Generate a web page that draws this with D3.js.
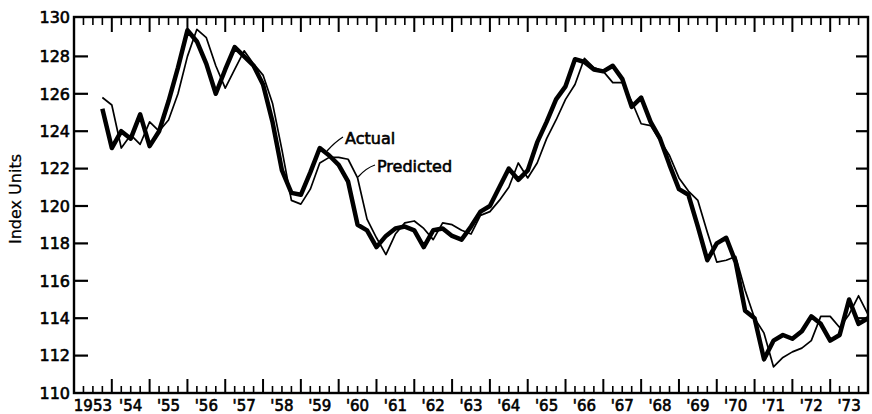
<!DOCTYPE html>
<html>
<head>
<meta charset="utf-8">
<script src="https://cdn.jsdelivr.net/npm/d3@7/dist/d3.min.js"></script>
<style>
  html, body { margin: 0; padding: 0; background: #fff; }
  svg { display: block; }
  text { font-family: "DejaVu Sans", sans-serif; fill: #000; stroke: #000; stroke-width: 0.6px; }
</style>
</head>
<body>
<svg id="chart" width="872" height="414"></svg>
<script>
// ---- data (quarterly, 1953 Q4 .. 1973 Q4 end-of-quarter positions) ----
const firstPeriod = 1953.75;   // first observation
const actual = [
  125.2, 123.1, 124.0, 123.6, 124.9, 123.2, 124.0, 125.6, 127.4, 129.4,
  128.8, 127.6, 126.0, 127.3, 128.5, 128.0, 127.5, 126.5, 124.5, 121.9,
  120.7, 120.6, 121.8, 123.1, 122.7, 122.2, 121.3, 119.0, 118.7, 117.8,
  118.4, 118.8, 118.9, 118.7, 117.8, 118.7, 118.8, 118.4, 118.2, 118.9,
  119.7, 120.0, 121.0, 122.0, 121.4, 121.9, 123.4, 124.5, 125.7, 126.4,
  127.85, 127.7, 127.3, 127.2, 127.5, 126.8, 125.3, 125.8, 124.5, 123.6,
  122.2, 120.9, 120.6, 118.9, 117.1, 118.0, 118.3, 117.0, 114.4, 114.0,
  111.8, 112.8, 113.1, 112.9, 113.3, 114.1, 113.7, 112.8, 113.1, 115.0,
  113.7, 114.0
];
const predicted = [
  125.8, 125.4, 123.1, 123.8, 123.3, 124.5, 124.0, 124.6, 126.0, 128.0,
  129.45, 129.0, 127.5, 126.3, 127.3, 128.3, 127.6, 127.0, 125.5, 123.0,
  120.3, 120.1, 120.9, 122.3, 122.6, 122.6, 122.5, 121.5, 119.3, 118.3,
  117.4, 118.5, 119.1, 119.2, 118.8, 118.2, 119.1, 119.0, 118.7, 118.5,
  119.5, 119.7, 120.3, 121.0, 122.3, 121.5, 122.3, 123.6, 124.6, 125.7,
  126.5, 127.9, 127.4, 127.2, 126.6, 126.6, 125.6, 124.4, 124.3, 123.5,
  122.7, 121.5, 120.8, 120.3, 118.6, 117.0, 117.1, 117.3, 115.5, 114.0,
  113.2, 111.4, 111.9, 112.2, 112.4, 112.8, 114.1, 114.1, 113.5, 114.2,
  115.2, 114.2
];
const periods = actual.map((d, i) => firstPeriod + i / 4);
const years = d3.range(1953, 1974);
const yearLabels = ["1953", "'54", "'55", "'56", "'57", "'58", "'59", "'60", "'61", "'62",
  "'63", "'64", "'65", "'66", "'67", "'68", "'69", "'70", "'71", "'72", "'73"];
const yTicks = [110, 112, 114, 116, 118, 120, 122, 124, 126, 128, 130];
const yLabel = "Index Units";
const seriesNames = ["Actual", "Predicted"];

// ---- layout ----
const svg = d3.select("#chart");
const L = 74, R = 868, T = 17, B = 393;
const xs = d3.scaleLinear().domain([1953, 1974]).range([L, R]);
const ys = d3.scaleLinear().domain([110, 130]).range([B, 19]);

const quarterTicks = d3.range(1, 21 * 4).map(i => 1953 + i / 4);
const isMajor = t => Math.abs(t - Math.round(t)) < 1e-6;
const innerY = yTicks.slice(1, -1);

const ticks = svg.append("g").attr("stroke", "#000");
// top ticks (pointing down)
ticks.selectAll("line.top").data(quarterTicks).join("line").attr("class", "top")
  .attr("x1", d => xs(d)).attr("x2", d => xs(d))
  .attr("y1", T).attr("y2", d => T + (isMajor(d) ? 15 : 8))
  .attr("stroke-width", d => isMajor(d) ? 2 : 1.6);
// bottom ticks (pointing up)
ticks.selectAll("line.bot").data(quarterTicks).join("line").attr("class", "bot")
  .attr("x1", d => xs(d)).attr("x2", d => xs(d))
  .attr("y1", B).attr("y2", d => B - (isMajor(d) ? 14 : 7))
  .attr("stroke-width", d => isMajor(d) ? 2 : 1.6);
// left ticks
ticks.selectAll("line.left").data(innerY).join("line").attr("class", "left")
  .attr("x1", L).attr("x2", L + 14)
  .attr("y1", d => ys(d)).attr("y2", d => ys(d))
  .attr("stroke-width", 2.2);
// right ticks
ticks.selectAll("line.right").data(innerY).join("line").attr("class", "right")
  .attr("x1", R).attr("x2", R - 12)
  .attr("y1", d => ys(d)).attr("y2", d => ys(d))
  .attr("stroke-width", 2.2);

// frame
svg.append("rect").attr("x", L).attr("y", T).attr("width", R - L).attr("height", B - T)
  .attr("fill", "none").attr("stroke", "#000").attr("stroke-width", 2.4);

// y tick labels
svg.append("g").selectAll("text").data(yTicks).join("text")
  .attr("x", L - 4)
  .attr("y", d => (d === 130 ? T : ys(d)) + 5.8)
  .attr("text-anchor", "end")
  .attr("font-size", 16)
  .text(d => d);

// x labels (centered in each year)
svg.append("g").selectAll("text").data(years).join("text")
  .attr("x", d => xs(d + 0.5))
  .attr("y", 411)
  .attr("text-anchor", "middle")
  .attr("font-size", 15)
  .text((d, i) => yearLabels[i]);

// y axis title
svg.append("text")
  .attr("transform", `translate(21,199) rotate(-90)`)
  .attr("text-anchor", "middle")
  .attr("font-size", 16)
  .style("stroke-width", "0.25px")
  .text(yLabel);

// lines
const line = d3.line().x((d, i) => xs(periods[i])).y(d => ys(d)).curve(d3.curveLinear);
svg.append("path").datum(predicted).attr("d", line)
  .attr("fill", "none").attr("stroke", "#000").attr("stroke-width", 1.7)
  .attr("stroke-linejoin", "round");
svg.append("path").datum(actual).attr("d", line)
  .attr("fill", "none").attr("stroke", "#000").attr("stroke-width", 4.5)
  .attr("stroke-linejoin", "round");

// annotations
svg.append("path").attr("d", "M327,151 Q335,142 343,137")
  .attr("fill", "none").attr("stroke", "#000").attr("stroke-width", 1.3);
svg.append("text").attr("x", 345).attr("y", 144).attr("font-size", 16).text(seriesNames[0]);
svg.append("path").attr("d", "M358,177 Q366,168 375,165")
  .attr("fill", "none").attr("stroke", "#000").attr("stroke-width", 1.3);
svg.append("text").attr("x", 377).attr("y", 172).attr("font-size", 16).text(seriesNames[1]);
</script>
</body>
</html>
